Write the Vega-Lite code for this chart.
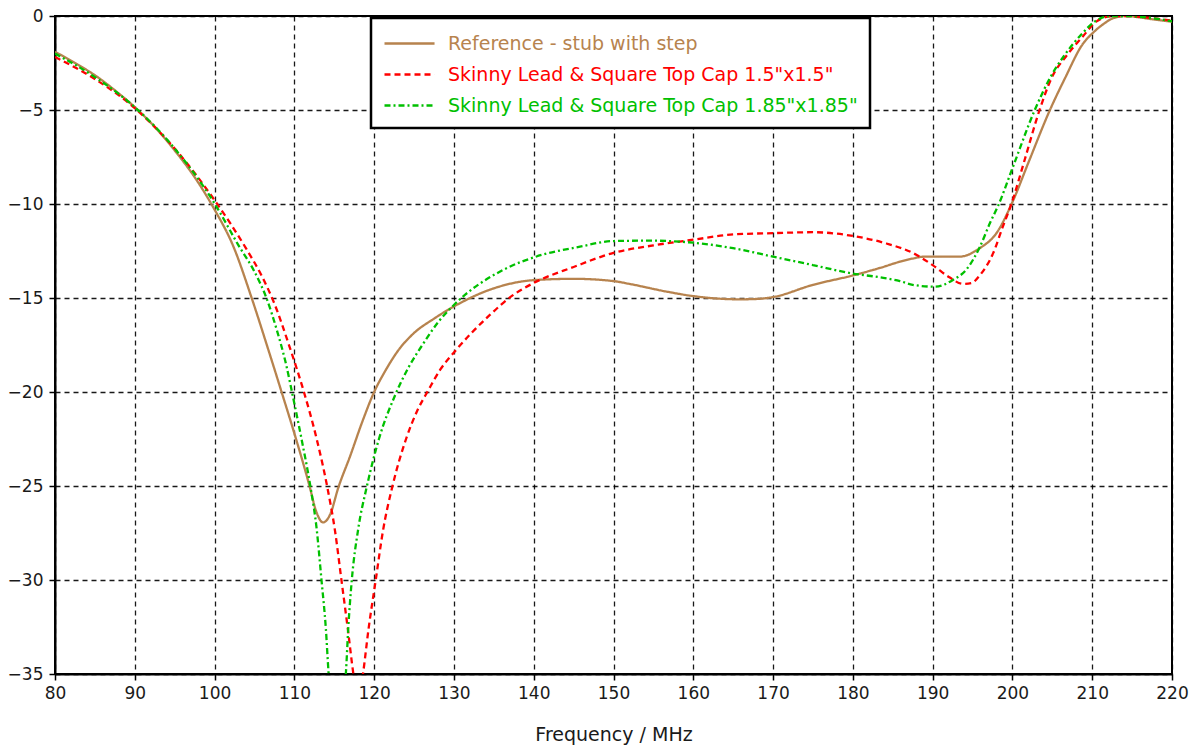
{
  "$schema": "https://vega.github.io/schema/vega-lite/v6.json",
  "width": 1117,
  "height": 658,
  "autosize": {"type": "none"},
  "padding": {"left": 55, "top": 16, "right": 29, "bottom": 76},
  "background": "white",
  "config": {
    "font": "DejaVu Sans",
    "view": {"stroke": "black", "strokeWidth": 2},
    "axis": {
      "labelFontSize": 17,
      "labelColor": "#1a1a1a",
      "domainColor": "black",
      "domainWidth": 2,
      "tickColor": "black",
      "tickWidth": 1.5,
      "tickSize": 6,
      "gridColor": "black",
      "gridDash": [5, 4],
      "gridWidth": 1.3,
      "gridOpacity": 0.9,
      "titleFontSize": 19,
      "titleFontWeight": "normal",
      "titleColor": "#1a1a1a"
    }
  },
  "data": {
    "values": [
      {"series": "Reference - stub with step", "f": 80, "db": -1.9},
      {"series": "Reference - stub with step", "f": 82.5, "db": -2.5},
      {"series": "Reference - stub with step", "f": 85, "db": -3.15},
      {"series": "Reference - stub with step", "f": 87.5, "db": -3.95},
      {"series": "Reference - stub with step", "f": 90, "db": -4.85},
      {"series": "Reference - stub with step", "f": 92.5, "db": -5.9},
      {"series": "Reference - stub with step", "f": 95, "db": -7.15},
      {"series": "Reference - stub with step", "f": 97.75, "db": -8.73},
      {"series": "Reference - stub with step", "f": 100, "db": -10.3},
      {"series": "Reference - stub with step", "f": 102.3, "db": -12.2},
      {"series": "Reference - stub with step", "f": 104.65, "db": -15},
      {"series": "Reference - stub with step", "f": 106.7, "db": -17.7},
      {"series": "Reference - stub with step", "f": 108.4, "db": -20},
      {"series": "Reference - stub with step", "f": 110, "db": -22.2},
      {"series": "Reference - stub with step", "f": 111.9, "db": -25},
      {"series": "Reference - stub with step", "f": 112.7, "db": -26.3},
      {"series": "Reference - stub with step", "f": 113.6, "db": -26.94},
      {"series": "Reference - stub with step", "f": 114.5, "db": -26.5},
      {"series": "Reference - stub with step", "f": 115.5, "db": -25.1},
      {"series": "Reference - stub with step", "f": 117, "db": -23.4},
      {"series": "Reference - stub with step", "f": 118.5, "db": -21.6},
      {"series": "Reference - stub with step", "f": 120, "db": -20},
      {"series": "Reference - stub with step", "f": 121.5, "db": -18.8},
      {"series": "Reference - stub with step", "f": 123, "db": -17.8},
      {"series": "Reference - stub with step", "f": 124.9, "db": -16.9},
      {"series": "Reference - stub with step", "f": 127.5, "db": -16.1},
      {"series": "Reference - stub with step", "f": 130, "db": -15.45},
      {"series": "Reference - stub with step", "f": 134.9, "db": -14.5},
      {"series": "Reference - stub with step", "f": 140, "db": -14.05},
      {"series": "Reference - stub with step", "f": 145, "db": -13.98},
      {"series": "Reference - stub with step", "f": 150, "db": -14.1},
      {"series": "Reference - stub with step", "f": 152, "db": -14.25},
      {"series": "Reference - stub with step", "f": 156.65, "db": -14.66},
      {"series": "Reference - stub with step", "f": 160, "db": -14.9},
      {"series": "Reference - stub with step", "f": 165.8, "db": -15.07},
      {"series": "Reference - stub with step", "f": 168, "db": -15.05},
      {"series": "Reference - stub with step", "f": 170, "db": -14.95},
      {"series": "Reference - stub with step", "f": 175, "db": -14.3},
      {"series": "Reference - stub with step", "f": 180, "db": -13.8},
      {"series": "Reference - stub with step", "f": 183.4, "db": -13.4},
      {"series": "Reference - stub with step", "f": 185.9, "db": -13.07},
      {"series": "Reference - stub with step", "f": 187.5, "db": -12.9},
      {"series": "Reference - stub with step", "f": 189, "db": -12.8},
      {"series": "Reference - stub with step", "f": 193.4, "db": -12.8},
      {"series": "Reference - stub with step", "f": 195.9, "db": -12.35},
      {"series": "Reference - stub with step", "f": 198, "db": -11.55},
      {"series": "Reference - stub with step", "f": 200, "db": -9.9},
      {"series": "Reference - stub with step", "f": 202, "db": -7.8},
      {"series": "Reference - stub with step", "f": 204.7, "db": -5},
      {"series": "Reference - stub with step", "f": 206.6, "db": -3.3},
      {"series": "Reference - stub with step", "f": 208.8, "db": -1.5},
      {"series": "Reference - stub with step", "f": 210.2, "db": -0.85},
      {"series": "Reference - stub with step", "f": 211.5, "db": -0.4},
      {"series": "Reference - stub with step", "f": 212.6, "db": -0.12},
      {"series": "Reference - stub with step", "f": 214.3, "db": 0},
      {"series": "Reference - stub with step", "f": 216, "db": -0.08},
      {"series": "Reference - stub with step", "f": 218, "db": -0.2},
      {"series": "Reference - stub with step", "f": 220, "db": -0.3},

      {"series": "Skinny Lead & Square Top Cap 1.5\"x1.5\"", "f": 80, "db": -2.18},
      {"series": "Skinny Lead & Square Top Cap 1.5\"x1.5\"", "f": 85, "db": -3.35},
      {"series": "Skinny Lead & Square Top Cap 1.5\"x1.5\"", "f": 90, "db": -4.9},
      {"series": "Skinny Lead & Square Top Cap 1.5\"x1.5\"", "f": 95, "db": -7.05},
      {"series": "Skinny Lead & Square Top Cap 1.5\"x1.5\"", "f": 100, "db": -9.8},
      {"series": "Skinny Lead & Square Top Cap 1.5\"x1.5\"", "f": 102, "db": -11.05},
      {"series": "Skinny Lead & Square Top Cap 1.5\"x1.5\"", "f": 104, "db": -12.4},
      {"series": "Skinny Lead & Square Top Cap 1.5\"x1.5\"", "f": 106, "db": -13.9},
      {"series": "Skinny Lead & Square Top Cap 1.5\"x1.5\"", "f": 107.5, "db": -15.3},
      {"series": "Skinny Lead & Square Top Cap 1.5\"x1.5\"", "f": 109.4, "db": -17.6},
      {"series": "Skinny Lead & Square Top Cap 1.5\"x1.5\"", "f": 111.2, "db": -20},
      {"series": "Skinny Lead & Square Top Cap 1.5\"x1.5\"", "f": 112.8, "db": -22.5},
      {"series": "Skinny Lead & Square Top Cap 1.5\"x1.5\"", "f": 114.1, "db": -25},
      {"series": "Skinny Lead & Square Top Cap 1.5\"x1.5\"", "f": 115.1, "db": -27.4},
      {"series": "Skinny Lead & Square Top Cap 1.5\"x1.5\"", "f": 115.9, "db": -30},
      {"series": "Skinny Lead & Square Top Cap 1.5\"x1.5\"", "f": 116.7, "db": -32.6},
      {"series": "Skinny Lead & Square Top Cap 1.5\"x1.5\"", "f": 117.4, "db": -35},
      {"series": "Skinny Lead & Square Top Cap 1.5\"x1.5\"", "f": 118, "db": -36.5},
      {"series": "Skinny Lead & Square Top Cap 1.5\"x1.5\"", "f": 118.6, "db": -35},
      {"series": "Skinny Lead & Square Top Cap 1.5\"x1.5\"", "f": 119.3, "db": -32.6},
      {"series": "Skinny Lead & Square Top Cap 1.5\"x1.5\"", "f": 120.2, "db": -30},
      {"series": "Skinny Lead & Square Top Cap 1.5\"x1.5\"", "f": 121.1, "db": -27.4},
      {"series": "Skinny Lead & Square Top Cap 1.5\"x1.5\"", "f": 122.3, "db": -25},
      {"series": "Skinny Lead & Square Top Cap 1.5\"x1.5\"", "f": 124.0, "db": -22.5},
      {"series": "Skinny Lead & Square Top Cap 1.5\"x1.5\"", "f": 125.4, "db": -21.0},
      {"series": "Skinny Lead & Square Top Cap 1.5\"x1.5\"", "f": 126.8, "db": -19.9},
      {"series": "Skinny Lead & Square Top Cap 1.5\"x1.5\"", "f": 128.3, "db": -18.8},
      {"series": "Skinny Lead & Square Top Cap 1.5\"x1.5\"", "f": 130, "db": -17.9},
      {"series": "Skinny Lead & Square Top Cap 1.5\"x1.5\"", "f": 134.5, "db": -15.9},
      {"series": "Skinny Lead & Square Top Cap 1.5\"x1.5\"", "f": 137.4, "db": -14.85},
      {"series": "Skinny Lead & Square Top Cap 1.5\"x1.5\"", "f": 140, "db": -14.2},
      {"series": "Skinny Lead & Square Top Cap 1.5\"x1.5\"", "f": 145, "db": -13.35},
      {"series": "Skinny Lead & Square Top Cap 1.5\"x1.5\"", "f": 150, "db": -12.6},
      {"series": "Skinny Lead & Square Top Cap 1.5\"x1.5\"", "f": 155, "db": -12.2},
      {"series": "Skinny Lead & Square Top Cap 1.5\"x1.5\"", "f": 160, "db": -11.9},
      {"series": "Skinny Lead & Square Top Cap 1.5\"x1.5\"", "f": 165, "db": -11.62},
      {"series": "Skinny Lead & Square Top Cap 1.5\"x1.5\"", "f": 170, "db": -11.55},
      {"series": "Skinny Lead & Square Top Cap 1.5\"x1.5\"", "f": 175, "db": -11.5},
      {"series": "Skinny Lead & Square Top Cap 1.5\"x1.5\"", "f": 180, "db": -11.7},
      {"series": "Skinny Lead & Square Top Cap 1.5\"x1.5\"", "f": 184.2, "db": -12.1},
      {"series": "Skinny Lead & Square Top Cap 1.5\"x1.5\"", "f": 187.5, "db": -12.6},
      {"series": "Skinny Lead & Square Top Cap 1.5\"x1.5\"", "f": 190, "db": -13.25},
      {"series": "Skinny Lead & Square Top Cap 1.5\"x1.5\"", "f": 192.1, "db": -13.9},
      {"series": "Skinny Lead & Square Top Cap 1.5\"x1.5\"", "f": 193.8, "db": -14.25},
      {"series": "Skinny Lead & Square Top Cap 1.5\"x1.5\"", "f": 194.9, "db": -14.2},
      {"series": "Skinny Lead & Square Top Cap 1.5\"x1.5\"", "f": 195.9, "db": -13.8},
      {"series": "Skinny Lead & Square Top Cap 1.5\"x1.5\"", "f": 197.6, "db": -12.6},
      {"series": "Skinny Lead & Square Top Cap 1.5\"x1.5\"", "f": 198.8, "db": -11.2},
      {"series": "Skinny Lead & Square Top Cap 1.5\"x1.5\"", "f": 199.9, "db": -9.96},
      {"series": "Skinny Lead & Square Top Cap 1.5\"x1.5\"", "f": 201.5, "db": -7.7},
      {"series": "Skinny Lead & Square Top Cap 1.5\"x1.5\"", "f": 203.4, "db": -5},
      {"series": "Skinny Lead & Square Top Cap 1.5\"x1.5\"", "f": 204.9, "db": -3.3},
      {"series": "Skinny Lead & Square Top Cap 1.5\"x1.5\"", "f": 206.8, "db": -2.1},
      {"series": "Skinny Lead & Square Top Cap 1.5\"x1.5\"", "f": 208.8, "db": -1.1},
      {"series": "Skinny Lead & Square Top Cap 1.5\"x1.5\"", "f": 210.5, "db": -0.3},
      {"series": "Skinny Lead & Square Top Cap 1.5\"x1.5\"", "f": 212.6, "db": 0},
      {"series": "Skinny Lead & Square Top Cap 1.5\"x1.5\"", "f": 214.3, "db": 0},
      {"series": "Skinny Lead & Square Top Cap 1.5\"x1.5\"", "f": 217.6, "db": -0.12},
      {"series": "Skinny Lead & Square Top Cap 1.5\"x1.5\"", "f": 220, "db": -0.25},

      {"series": "Skinny Lead & Square Top Cap 1.85\"x1.85\"", "f": 80, "db": -2.0},
      {"series": "Skinny Lead & Square Top Cap 1.85\"x1.85\"", "f": 85, "db": -3.25},
      {"series": "Skinny Lead & Square Top Cap 1.85\"x1.85\"", "f": 90, "db": -4.85},
      {"series": "Skinny Lead & Square Top Cap 1.85\"x1.85\"", "f": 95, "db": -7.05},
      {"series": "Skinny Lead & Square Top Cap 1.85\"x1.85\"", "f": 100, "db": -9.97},
      {"series": "Skinny Lead & Square Top Cap 1.85\"x1.85\"", "f": 103, "db": -12.2},
      {"series": "Skinny Lead & Square Top Cap 1.85\"x1.85\"", "f": 105, "db": -13.6},
      {"series": "Skinny Lead & Square Top Cap 1.85\"x1.85\"", "f": 106.5, "db": -15.0},
      {"series": "Skinny Lead & Square Top Cap 1.85\"x1.85\"", "f": 107.8, "db": -16.7},
      {"series": "Skinny Lead & Square Top Cap 1.85\"x1.85\"", "f": 109.0, "db": -18.6},
      {"series": "Skinny Lead & Square Top Cap 1.85\"x1.85\"", "f": 109.7, "db": -20},
      {"series": "Skinny Lead & Square Top Cap 1.85\"x1.85\"", "f": 110.9, "db": -22.5},
      {"series": "Skinny Lead & Square Top Cap 1.85\"x1.85\"", "f": 112.0, "db": -25},
      {"series": "Skinny Lead & Square Top Cap 1.85\"x1.85\"", "f": 112.8, "db": -27.3},
      {"series": "Skinny Lead & Square Top Cap 1.85\"x1.85\"", "f": 113.4, "db": -30},
      {"series": "Skinny Lead & Square Top Cap 1.85\"x1.85\"", "f": 113.95, "db": -32.6},
      {"series": "Skinny Lead & Square Top Cap 1.85\"x1.85\"", "f": 114.3, "db": -35},
      {"series": "Skinny Lead & Square Top Cap 1.85\"x1.85\"", "f": 115.4, "db": -38},
      {"series": "Skinny Lead & Square Top Cap 1.85\"x1.85\"", "f": 116.45, "db": -35},
      {"series": "Skinny Lead & Square Top Cap 1.85\"x1.85\"", "f": 116.75, "db": -32.6},
      {"series": "Skinny Lead & Square Top Cap 1.85\"x1.85\"", "f": 117.2, "db": -30},
      {"series": "Skinny Lead & Square Top Cap 1.85\"x1.85\"", "f": 118.0, "db": -27.3},
      {"series": "Skinny Lead & Square Top Cap 1.85\"x1.85\"", "f": 119.1, "db": -25},
      {"series": "Skinny Lead & Square Top Cap 1.85\"x1.85\"", "f": 120.6, "db": -22.5},
      {"series": "Skinny Lead & Square Top Cap 1.85\"x1.85\"", "f": 122.6, "db": -20.2},
      {"series": "Skinny Lead & Square Top Cap 1.85\"x1.85\"", "f": 124.3, "db": -18.7},
      {"series": "Skinny Lead & Square Top Cap 1.85\"x1.85\"", "f": 126.2, "db": -17.4},
      {"series": "Skinny Lead & Square Top Cap 1.85\"x1.85\"", "f": 128, "db": -16.3},
      {"series": "Skinny Lead & Square Top Cap 1.85\"x1.85\"", "f": 130, "db": -15.37},
      {"series": "Skinny Lead & Square Top Cap 1.85\"x1.85\"", "f": 136.2, "db": -13.5},
      {"series": "Skinny Lead & Square Top Cap 1.85\"x1.85\"", "f": 140, "db": -12.84},
      {"series": "Skinny Lead & Square Top Cap 1.85\"x1.85\"", "f": 145.8, "db": -12.27},
      {"series": "Skinny Lead & Square Top Cap 1.85\"x1.85\"", "f": 150, "db": -11.97},
      {"series": "Skinny Lead & Square Top Cap 1.85\"x1.85\"", "f": 154.6, "db": -11.95},
      {"series": "Skinny Lead & Square Top Cap 1.85\"x1.85\"", "f": 160, "db": -12.06},
      {"series": "Skinny Lead & Square Top Cap 1.85\"x1.85\"", "f": 165, "db": -12.35},
      {"series": "Skinny Lead & Square Top Cap 1.85\"x1.85\"", "f": 170, "db": -12.8},
      {"series": "Skinny Lead & Square Top Cap 1.85\"x1.85\"", "f": 175, "db": -13.25},
      {"series": "Skinny Lead & Square Top Cap 1.85\"x1.85\"", "f": 180, "db": -13.7},
      {"series": "Skinny Lead & Square Top Cap 1.85\"x1.85\"", "f": 183.4, "db": -13.9},
      {"series": "Skinny Lead & Square Top Cap 1.85\"x1.85\"", "f": 185.9, "db": -14.1},
      {"series": "Skinny Lead & Square Top Cap 1.85\"x1.85\"", "f": 187.5, "db": -14.3},
      {"series": "Skinny Lead & Square Top Cap 1.85\"x1.85\"", "f": 190.3, "db": -14.4},
      {"series": "Skinny Lead & Square Top Cap 1.85\"x1.85\"", "f": 192.5, "db": -14.05},
      {"series": "Skinny Lead & Square Top Cap 1.85\"x1.85\"", "f": 194.2, "db": -13.5},
      {"series": "Skinny Lead & Square Top Cap 1.85\"x1.85\"", "f": 195.9, "db": -12.3},
      {"series": "Skinny Lead & Square Top Cap 1.85\"x1.85\"", "f": 197.2, "db": -11.0},
      {"series": "Skinny Lead & Square Top Cap 1.85\"x1.85\"", "f": 198.2, "db": -10.1},
      {"series": "Skinny Lead & Square Top Cap 1.85\"x1.85\"", "f": 200, "db": -8.1},
      {"series": "Skinny Lead & Square Top Cap 1.85\"x1.85\"", "f": 202.8, "db": -5},
      {"series": "Skinny Lead & Square Top Cap 1.85\"x1.85\"", "f": 204.7, "db": -3.3},
      {"series": "Skinny Lead & Square Top Cap 1.85\"x1.85\"", "f": 206.5, "db": -2.1},
      {"series": "Skinny Lead & Square Top Cap 1.85\"x1.85\"", "f": 208.6, "db": -1.0},
      {"series": "Skinny Lead & Square Top Cap 1.85\"x1.85\"", "f": 210.3, "db": -0.3},
      {"series": "Skinny Lead & Square Top Cap 1.85\"x1.85\"", "f": 212.3, "db": 0},
      {"series": "Skinny Lead & Square Top Cap 1.85\"x1.85\"", "f": 214.3, "db": 0},
      {"series": "Skinny Lead & Square Top Cap 1.85\"x1.85\"", "f": 217.6, "db": -0.12},
      {"series": "Skinny Lead & Square Top Cap 1.85\"x1.85\"", "f": 220, "db": -0.28}
    ]
  },
  "mark": {"type": "line", "interpolate": "monotone", "clip": true, "strokeWidth": 2.3},
  "encoding": {
    "x": {
      "field": "f",
      "type": "quantitative",
      "scale": {"domain": [80, 220], "nice": false, "zero": false},
      "axis": {
        "values": [80, 90, 100, 110, 120, 130, 140, 150, 160, 170, 180, 190, 200, 210, 220],
        "title": "Frequency / MHz",
        "titlePadding": 24,
        "labelPadding": 5,
        "labelFlush": false
      }
    },
    "y": {
      "field": "db",
      "type": "quantitative",
      "scale": {"domain": [-35, 0], "nice": false, "zero": false},
      "axis": {
        "values": [0, -5, -10, -15, -20, -25, -30, -35],
        "title": null,
        "labelPadding": 6,
        "labelFlush": false
      }
    },
    "color": {
      "field": "series",
      "type": "nominal",
      "scale": {
        "domain": ["Reference - stub with step", "Skinny Lead & Square Top Cap 1.5\"x1.5\"", "Skinny Lead & Square Top Cap 1.85\"x1.85\""],
        "range": ["#b7834e", "#ff0000", "#00c000"]
      },
      "legend": {
        "orient": "none",
        "legendX": 316,
        "legendY": 2,
        "title": null,
        "symbolType": "M-1,0H3.17",
        "symbolSize": 576,
        "symbolStrokeWidth": 2.5,
        "labelFontSize": 19,
        "labelLimit": 700,
        "labelOffset": 38,
        "rowPadding": 7,
        "padding": 12,
        "fillColor": "white",
        "strokeColor": "black",
        "encode": {
          "legend": {"update": {"strokeWidth": {"value": 2.5}}},
          "labels": {"update": {"fill": {"signal": "scale('color', datum.value)"}}}
        }
      }
    },
    "strokeDash": {
      "field": "series",
      "type": "nominal",
      "scale": {
        "domain": ["Reference - stub with step", "Skinny Lead & Square Top Cap 1.5\"x1.5\"", "Skinny Lead & Square Top Cap 1.85\"x1.85\""],
        "range": [[1, 0], [6, 4], [6, 3, 2, 3]]
      }
    },
    "order": {"field": "f", "type": "quantitative"}
  }
}
